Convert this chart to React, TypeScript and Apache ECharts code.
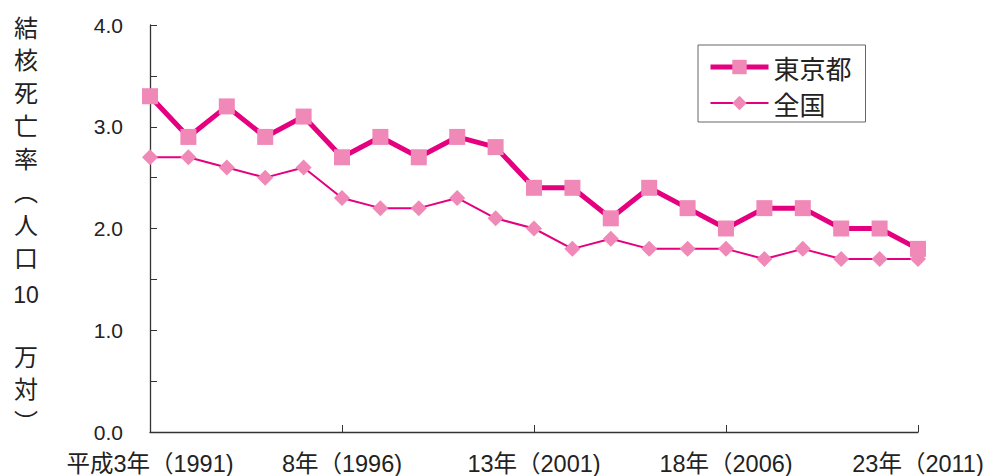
import React, { useEffect, useRef } from "react";
import * as echarts from "echarts";

const categories = [
  "平成3年（1991)", "4年（1992)", "5年（1993)", "6年（1994)", "7年（1995)",
  "8年（1996)", "9年（1997)", "10年（1998)", "11年（1999)", "12年（2000)",
  "13年（2001)", "14年（2002)", "15年（2003)", "16年（2004)", "17年（2005)",
  "18年（2006)", "19年（2007)", "20年（2008)", "21年（2009)", "22年（2010)",
  "23年（2011)",
];
const tokyo = [3.3, 2.9, 3.2, 2.9, 3.1, 2.7, 2.9, 2.7, 2.9, 2.8, 2.4, 2.4, 2.1, 2.4, 2.2, 2.0, 2.2, 2.2, 2.0, 2.0, 1.8];
const national = [2.7, 2.7, 2.6, 2.5, 2.6, 2.3, 2.2, 2.2, 2.3, 2.1, 2.0, 1.8, 1.9, 1.8, 1.8, 1.8, 1.7, 1.8, 1.7, 1.7, 1.7];
const seriesNames = ["東京都", "全国"];
const yTitleChars = ["結", "核", "死", "亡", "率", "︵", "人", "口", "10", "", "万", "対", "︶"];

const FONT = "'Liberation Sans', 'Noto Sans CJK JP', sans-serif";
const CJK = "'Noto Sans CJK JP', sans-serif";
const LINE = "#e4007f";
const MARK = "#f088b8";

export default function App() {
  const ref = useRef<HTMLDivElement>(null);
  useEffect(() => {
    const chart = echarts.init(ref.current!, null, { renderer: "svg" });
    chart.setOption({
      animation: false,
      backgroundColor: "#ffffff",
      textStyle: { fontFamily: FONT },
      grid: {
        left: 150, right: 68, top: 25, bottom: 44,
        containLabel: false,
        outerBoundsMode: "none",
      },
      legend: {
        left: 698,
        top: 45,
        orient: "vertical",
        padding: [9, 14, 6, 10],
        itemGap: 10,
        itemWidth: 58,
        itemHeight: 18,
        borderColor: "#666",
        borderWidth: 1,
        lineStyle: { width: "inherit" },
        textStyle: { fontSize: 26, lineHeight: 26, color: "#222", fontFamily: CJK },
        data: seriesNames,
      },
      xAxis: {
        type: "category",
        data: categories,
        boundaryGap: false,
        axisLine: { lineStyle: { color: "#333", width: 1.3 } },
        axisTick: { inside: true, length: 7, interval: 4, lineStyle: { color: "#333" } },
        axisLabel: {
          interval: 4,
          fontSize: 23.5,
          color: "#222",
          margin: 20,
          fontFamily: FONT,
        },
      },
      yAxis: {
        type: "value",
        min: 0,
        max: 4,
        interval: 0.5,
        axisLine: { show: true, lineStyle: { color: "#333", width: 1.3 } },
        axisTick: { show: true, inside: true, length: 7, lineStyle: { color: "#333" } },
        splitLine: { show: false },
        axisLabel: {
          fontSize: 21,
          color: "#222",
          margin: 27,
          fontFamily: FONT,
          formatter: (v: number) => (Math.abs(v - Math.round(v)) < 1e-9 ? v.toFixed(1) : ""),
        },
      },
      graphic: yTitleChars.map((c, i) => ({
        type: "text",
        x: 26,
        y: 26 + i * 32.9 + (c === "10" ? 6 : 0),
        style: {
          text: c,
          fontSize: c === "10" ? 23 : 24,
          fill: "#222",
          fontFamily: c === "10" ? FONT : CJK,
          textAlign: "center",
          textVerticalAlign: "middle",
        },
      })),
      series: [
        {
          name: seriesNames[0],
          type: "line",
          data: tokyo,
          symbol: "rect",
          symbolSize: 16,
          lineStyle: { color: LINE, width: 5 },
          itemStyle: { color: MARK },
          z: 3,
        },
        {
          name: seriesNames[1],
          type: "line",
          data: national,
          symbol: "diamond",
          symbolSize: 16,
          lineStyle: { color: LINE, width: 2 },
          itemStyle: { color: MARK },
          z: 2,
        },
      ],
    });
    return () => chart.dispose();
  }, []);
  return <div ref={ref} style={{ width: 986, height: 476, position: "absolute", left: 0, top: 0 }} />;
}
